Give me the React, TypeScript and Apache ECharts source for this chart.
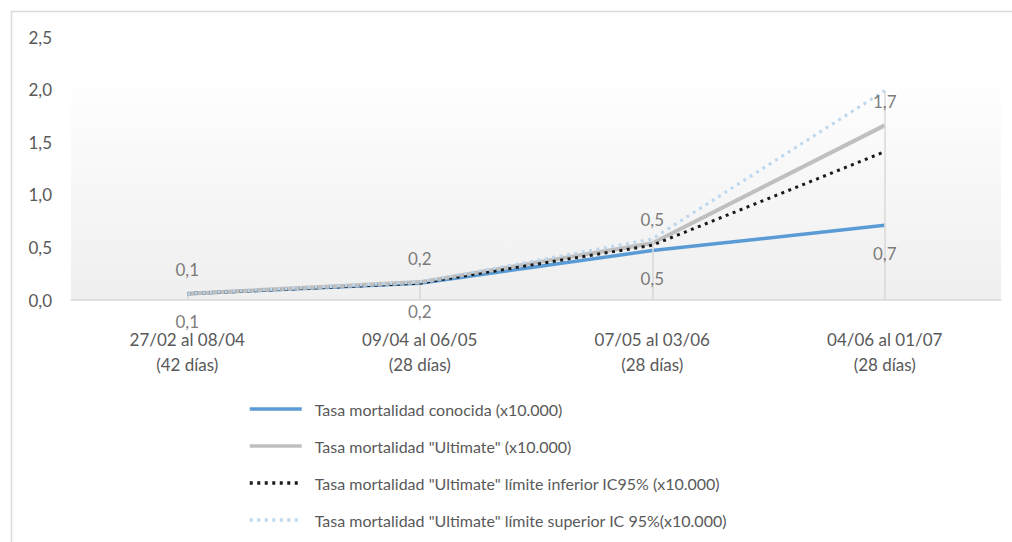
import React, { useEffect, useRef } from "react";
import * as echarts from "echarts";

const categories = [
  "27/02 al 08/04\n(42 días)",
  "09/04 al 06/05\n(28 días)",
  "07/05 al 03/06\n(28 días)",
  "04/06 al 01/07\n(28 días)",
];
const conocida = [0.06, 0.16, 0.47, 0.71];
const ultimate = [0.06, 0.17, 0.54, 1.66];
const inferior = [0.06, 0.16, 0.52, 1.41];
const superior = [0.06, 0.17, 0.58, 1.99];
const seriesNames = [
  "Tasa mortalidad conocida (x10.000)",
  'Tasa mortalidad "Ultimate" (x10.000)',
  'Tasa mortalidad "Ultimate" límite inferior IC95% (x10.000)',
  'Tasa mortalidad "Ultimate" límite superior IC 95%(x10.000)',
];
const yTicks = { min: 0, max: 2.5, interval: 0.5 };

const FONT = "Lato";
const TXT = "#595959";
const fmt = (v: number) => v.toFixed(1).replace(".", ",");

export default function App() {
  const ref = useRef<HTMLDivElement>(null);
  useEffect(() => {
    if (!ref.current) return;
    const chart = echarts.init(ref.current, undefined, { renderer: "svg" });
    const labelSeries = (name: string, data: number[], pos: string, dist: number) => ({
      name,
      type: "scatter",
      data,
      symbol: "circle",
      symbolSize: 1,
      itemStyle: { color: "rgba(0,0,0,0)" },
      silent: true,
      z: 10,
      label: {
        show: true,
        position: pos,
        distance: dist,
        fontFamily: FONT,
        fontSize: 17,
        color: TXT,
        formatter: (p: any) => fmt(p.value),
      },
    });
    chart.setOption({
      animation: false,
      backgroundColor: "#ffffff",
      textStyle: { fontFamily: FONT },
      grid: {
        left: 71,
        right: 11,
        top: 37,
        bottom: 242,
        containLabel: false,
        show: true,
        borderWidth: 0,
        backgroundColor: {
          type: "linear",
          x: 0,
          y: 0,
          x2: 0,
          y2: 1,
          colorStops: [
            { offset: 0, color: "#ffffff" },
            { offset: 0.12, color: "#ffffff" },
            { offset: 1, color: "#efefef" },
          ],
        },
      },
      graphic: [
        {
          type: "line",
          shape: { x1: 11.5, y1: 11, x2: 11.5, y2: 542 },
          style: { stroke: "#d9d9d9", lineWidth: 1.5 },
        },
        {
          type: "line",
          shape: { x1: 11, y1: 11.5, x2: 1012, y2: 11.5 },
          style: { stroke: "#d9d9d9", lineWidth: 1.5 },
        },
      ],
      legend: {
        orient: "vertical",
        left: 248,
        top: 401,
        height: 141,
        padding: 0,
        itemWidth: 52,
        itemHeight: 14,
        itemGap: 21,
        data: seriesNames,
        itemStyle: { opacity: 0, borderWidth: 0 },
        lineStyle: { width: 3.5 },
        textStyle: {
          fontFamily: FONT,
          fontSize: 16,
          color: TXT,
          padding: [0, 0, 0, 8],
        },
      },
      xAxis: {
        type: "category",
        data: categories,
        boundaryGap: true,
        axisLine: { lineStyle: { color: "#d9d9d9", width: 1.5 } },
        axisTick: { show: false },
        axisLabel: {
          fontFamily: FONT,
          fontSize: 17,
          color: TXT,
          lineHeight: 25,
          margin: 27,
        },
        splitLine: { show: false },
      },
      yAxis: {
        type: "value",
        min: yTicks.min,
        max: yTicks.max,
        interval: yTicks.interval,
        axisLine: { show: false },
        axisTick: { show: false },
        splitLine: { show: false },
        axisLabel: {
          fontFamily: FONT,
          fontSize: 17,
          color: TXT,
          margin: 19,
          formatter: (v: number) => fmt(v),
        },
      },
      series: [
        {
          name: "droplines",
          type: "line",
          data: [],
          silent: true,
          z: 1,
          markLine: {
            silent: true,
            symbol: "none",
            label: { show: false },
            lineStyle: { color: "#d9d9d9", width: 1.5, type: "solid" },
            data: categories.map((_, i) => [
              { coord: [i, 0] },
              { coord: [i, Math.max(conocida[i], ultimate[i], inferior[i], superior[i])] },
            ]),
          },
        },
        {
          name: seriesNames[0],
          type: "line",
          data: conocida,
          symbol: "none",
          z: 3,
          lineStyle: { color: "#5b9bd5", width: 3.5 },
          itemStyle: { color: "#5b9bd5" },
        },
        {
          name: seriesNames[1],
          type: "line",
          data: ultimate,
          symbol: "none",
          z: 4,
          lineStyle: { color: "#bfbfbf", width: 4 },
          itemStyle: { color: "#bfbfbf" },
        },
        {
          name: seriesNames[2],
          type: "line",
          data: inferior,
          symbol: "none",
          z: 5,
          lineStyle: { color: "#1a1a1a", width: 3, type: [3, 4.5] },
          itemStyle: { color: "#1a1a1a" },
        },
        {
          name: seriesNames[3],
          type: "line",
          data: superior,
          symbol: "none",
          z: 6,
          lineStyle: { color: "#bdd7ee", width: 3, type: [3, 4.5] },
          itemStyle: { color: "#bdd7ee" },
        },
        labelSeries("lbl-conocida", conocida, "bottom", 19),
        labelSeries("lbl-ultimate", ultimate, "top", 15),
      ],
    });
    return () => chart.dispose();
  }, []);
  return (
    <div
      ref={ref}
      style={{ position: "fixed", left: 0, top: 0, width: 1012, height: 542 }}
    />
  );
}
